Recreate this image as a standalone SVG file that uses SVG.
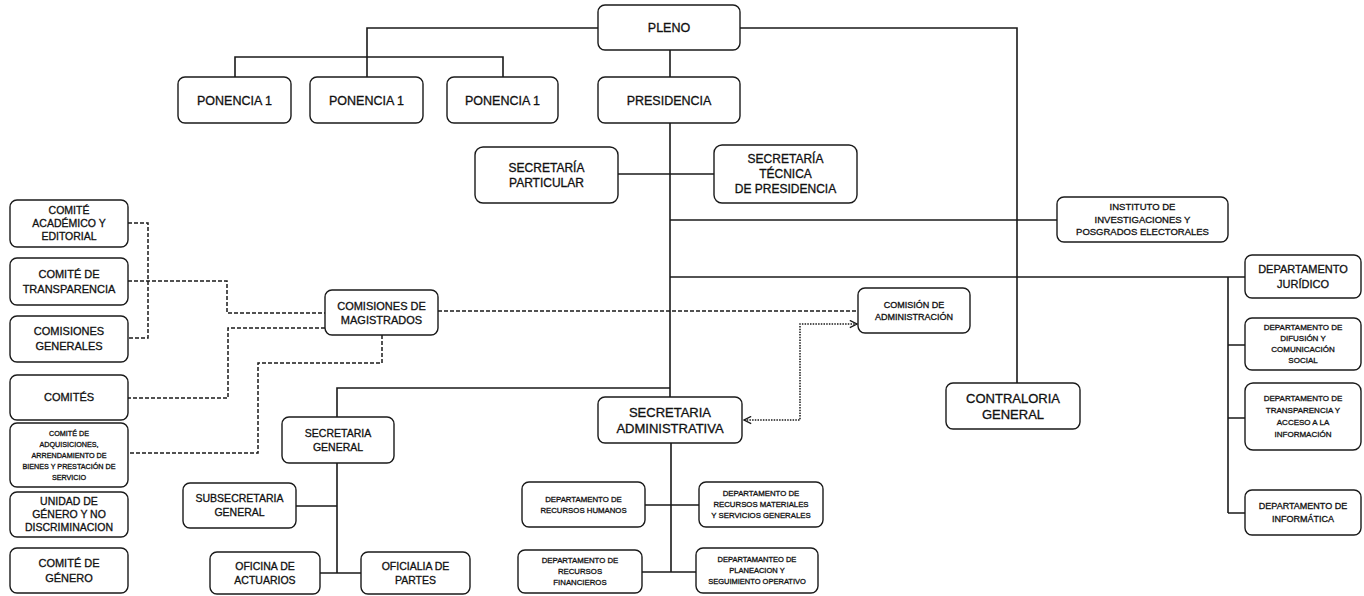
<svg xmlns="http://www.w3.org/2000/svg" width="1364" height="596" viewBox="0 0 1364 596">
<style>
.b{fill:#fff;stroke:#1a1a1a;stroke-width:1.4}
.t{font-family:"Liberation Sans",Arial,sans-serif;fill:#111;stroke:#111;stroke-width:0.3;text-anchor:middle}
.c{fill:none;stroke:#1a1a1a;stroke-width:1.6}
.d{fill:none;stroke:#1a1a1a;stroke-width:1.5;stroke-dasharray:4 2}
.o{fill:none;stroke:#1a1a1a;stroke-width:1.5;stroke-dasharray:1.5 1.2}
</style>
<defs>
<marker id="ar" viewBox="0 0 10 10" refX="9" refY="5" markerWidth="9" markerHeight="9" markerUnits="userSpaceOnUse" orient="auto-start-reverse">
<path d="M1,1 L9,5 L1,9" fill="none" stroke="#1a1a1a" stroke-width="1.5"/>
</marker>
</defs>
<rect width="1364" height="596" fill="#fff"/>
<g id="connectors">
<path class="c" d="M598,28 H367 V77"/>
<path class="c" d="M235,77 V57 H503 V77"/>
<path class="c" d="M740,28 H1017 V383"/>
<path class="c" d="M670,50 V77"/>
<path class="c" d="M670,123 V397"/>
<path class="c" d="M618,174 H714"/>
<path class="c" d="M670,220 H1057"/>
<path class="c" d="M670,277 H1245"/>
<path class="c" d="M1228,277 V513"/>
<path class="c" d="M1228,345 H1245 M1228,418 H1245 M1228,513 H1245"/>
<path class="c" d="M670,388 H337 V417"/>
<path class="c" d="M337,463 V573 M296,506 H337 M320,573 H361"/>
<path class="c" d="M671,443 V572 M645,505 H699 M642,572 H696"/>
<path class="d" d="M128,223 H148 V338 H128"/>
<path class="d" d="M128,281 H227 V313 H325"/>
<path class="d" d="M325,328 H228 V398 H128"/>
<path class="d" d="M382,335 V363 H258 V453 H128"/>
<path class="d" d="M438,311 H858"/>
<path class="o" d="M744,420 H800 V324 H857" marker-start="url(#ar)" marker-end="url(#ar)"/>
</g>
<g id="pleno"><rect class="b" x="598" y="5" width="142" height="45" rx="7"/><text class="t" x="669" y="32" font-size="12.5">PLENO</text></g>
<g id="ponencia1a"><rect class="b" x="178" y="77" width="113" height="46" rx="7"/><text class="t" x="234.5" y="104.5" font-size="12.5">PONENCIA 1</text></g>
<g id="ponencia1b"><rect class="b" x="310" y="77" width="113" height="46" rx="7"/><text class="t" x="366.5" y="104.5" font-size="12.5">PONENCIA 1</text></g>
<g id="ponencia1c"><rect class="b" x="447" y="77" width="111" height="46" rx="7"/><text class="t" x="502.5" y="104.5" font-size="12.5">PONENCIA 1</text></g>
<g id="presidencia"><rect class="b" x="598" y="77" width="142" height="46" rx="7"/><text class="t" x="669" y="104.5" font-size="12.5">PRESIDENCIA</text></g>
<g id="sec-particular"><rect class="b" x="475" y="147" width="143" height="56" rx="8"/><text class="t" font-size="12"><tspan x="546.5" y="171.7">SECRETARÍA</tspan><tspan x="546.5" y="186.7">PARTICULAR</tspan></text></g>
<g id="sec-tecnica"><rect class="b" x="714" y="145" width="143" height="58" rx="8"/><text class="t" font-size="12"><tspan x="785.5" y="163.2">SECRETARÍA</tspan><tspan x="785.5" y="178.2">TÉCNICA</tspan><tspan x="785.5" y="193.2">DE PRESIDENCIA</tspan></text></g>
<g id="instituto"><rect class="b" x="1057" y="197" width="171" height="45" rx="7"/><text class="t" font-size="9.5"><tspan x="1142.5" y="210.3">INSTITUTO DE</tspan><tspan x="1142.5" y="222.8">INVESTIGACIONES Y</tspan><tspan x="1142.5" y="235.3">POSGRADOS ELECTORALES</tspan></text></g>
<g id="comisiones-magistrados"><rect class="b" x="325" y="290" width="113" height="45" rx="7"/><text class="t" font-size="11"><tspan x="381.5" y="309.5">COMISIONES DE</tspan><tspan x="381.5" y="323.5">MAGISTRADOS</tspan></text></g>
<g id="comision-administracion"><rect class="b" x="858" y="288" width="112" height="45" rx="7"/><text class="t" font-size="9"><tspan x="914" y="307.7">COMISIÓN DE</tspan><tspan x="914" y="319.7">ADMINISTRACIÓN</tspan></text></g>
<g id="contraloria"><rect class="b" x="946" y="383" width="134" height="46" rx="7"/><text class="t" font-size="13"><tspan x="1013" y="402.5">CONTRALORIA</tspan><tspan x="1013" y="418.5">GENERAL</tspan></text></g>
<g id="sec-administrativa"><rect class="b" x="598" y="397" width="144" height="46" rx="7"/><text class="t" font-size="13"><tspan x="670" y="416.5">SECRETARIA</tspan><tspan x="670" y="432.5">ADMINISTRATIVA</tspan></text></g>
<g id="sec-general"><rect class="b" x="282" y="417" width="112" height="46" rx="7"/><text class="t" font-size="10.5"><tspan x="338" y="436.7">SECRETARIA</tspan><tspan x="338" y="450.7">GENERAL</tspan></text></g>
<g id="subsecretaria"><rect class="b" x="183" y="483" width="113" height="45" rx="7"/><text class="t" font-size="10.5"><tspan x="239.5" y="502.2">SUBSECRETARIA</tspan><tspan x="239.5" y="516.2">GENERAL</tspan></text></g>
<g id="oficina-actuarios"><rect class="b" x="210" y="552" width="110" height="42" rx="7"/><text class="t" font-size="10.5"><tspan x="265" y="569.7">OFICINA DE</tspan><tspan x="265" y="583.7">ACTUARIOS</tspan></text></g>
<g id="oficialia-partes"><rect class="b" x="361" y="552" width="109" height="42" rx="7"/><text class="t" font-size="10.5"><tspan x="415.5" y="569.7">OFICIALIA DE</tspan><tspan x="415.5" y="583.7">PARTES</tspan></text></g>
<g id="rh"><rect class="b" x="522" y="482" width="123" height="45" rx="7"/><text class="t" font-size="7.8"><tspan x="583.5" y="501.6">DEPARTAMENTO DE</tspan><tspan x="583.5" y="512.6">RECURSOS HUMANOS</tspan></text></g>
<g id="rm"><rect class="b" x="699" y="482" width="124" height="45" rx="7"/><text class="t" font-size="7.8"><tspan x="761" y="496.1">DEPARTAMENTO DE</tspan><tspan x="761" y="507.1">RECURSOS MATERIALES</tspan><tspan x="761" y="518.1">Y SERVICIOS GENERALES</tspan></text></g>
<g id="rf"><rect class="b" x="518" y="550" width="124" height="43" rx="7"/><text class="t" font-size="7.8"><tspan x="580" y="563.1">DEPARTAMENTO DE</tspan><tspan x="580" y="574.1">RECURSOS</tspan><tspan x="580" y="585.1">FINANCIEROS</tspan></text></g>
<g id="planeacion"><rect class="b" x="696" y="548" width="122" height="45" rx="7"/><text class="t" font-size="7.5"><tspan x="757" y="562.1">DEPARTAMANTEO DE</tspan><tspan x="757" y="573.1">PLANEACION Y</tspan><tspan x="757" y="584.1">SEGUIMIENTO OPERATIVO</tspan></text></g>
<g id="juridico"><rect class="b" x="1245" y="255" width="116" height="43" rx="7"/><text class="t" font-size="11"><tspan x="1303" y="272.9">DEPARTAMENTO</tspan><tspan x="1303" y="287.9">JURÍDICO</tspan></text></g>
<g id="difusion"><rect class="b" x="1245" y="318" width="116" height="52" rx="7"/><text class="t" font-size="8"><tspan x="1303" y="330.3">DEPARTAMENTO DE</tspan><tspan x="1303" y="341.3">DIFUSIÓN Y</tspan><tspan x="1303" y="352.3">COMUNICACIÓN</tspan><tspan x="1303" y="363.3">SOCIAL</tspan></text></g>
<g id="transparencia-dep"><rect class="b" x="1245" y="383" width="116" height="67" rx="8"/><text class="t" font-size="8"><tspan x="1303" y="401.3">DEPARTAMENTO DE</tspan><tspan x="1303" y="413.3">TRANSPARENCIA Y</tspan><tspan x="1303" y="425.3">ACCESO A LA</tspan><tspan x="1303" y="437.3">INFORMACIÓN</tspan></text></g>
<g id="informatica"><rect class="b" x="1245" y="490" width="116" height="45" rx="7"/><text class="t" font-size="9"><tspan x="1303" y="509.2">DEPARTAMENTO DE</tspan><tspan x="1303" y="522.2">INFORMÁTICA</tspan></text></g>
<g id="comite-academico"><rect class="b" x="10" y="200" width="118" height="47" rx="7"/><text class="t" font-size="10.5"><tspan x="69" y="214.2">COMITÉ</tspan><tspan x="69" y="227.2">ACADÉMICO Y</tspan><tspan x="69" y="240.2">EDITORIAL</tspan></text></g>
<g id="comite-transparencia"><rect class="b" x="10" y="258" width="118" height="47" rx="7"/><text class="t" font-size="11"><tspan x="69" y="277.8">COMITÉ DE</tspan><tspan x="69" y="292.8">TRANSPARENCIA</tspan></text></g>
<g id="comisiones-generales"><rect class="b" x="10" y="316" width="118" height="46" rx="7"/><text class="t" font-size="11"><tspan x="69" y="335.3">COMISIONES</tspan><tspan x="69" y="350.3">GENERALES</tspan></text></g>
<g id="comites"><rect class="b" x="10" y="375" width="118" height="45" rx="7"/><text class="t" x="69" y="401.4" font-size="11">COMITÉS</text></g>
<g id="comite-adquisiciones"><rect class="b" x="10" y="423" width="118" height="64" rx="7"/><text class="t" font-size="7.2"><tspan x="69" y="435.5">COMITÉ DE</tspan><tspan x="69" y="446.5">ADQUISICIONES,</tspan><tspan x="69" y="457.5">ARRENDAMIENTO DE</tspan><tspan x="69" y="468.5">BIENES Y PRESTACIÓN DE</tspan><tspan x="69" y="479.5">SERVICIO</tspan></text></g>
<g id="unidad-genero"><rect class="b" x="10" y="492" width="118" height="45" rx="7"/><text class="t" font-size="10.5"><tspan x="69" y="505.2">UNIDAD DE</tspan><tspan x="69" y="518.2">GÉNERO Y NO</tspan><tspan x="69" y="531.2">DISCRIMINACION</tspan></text></g>
<g id="comite-genero"><rect class="b" x="10" y="548" width="118" height="45" rx="7"/><text class="t" font-size="11"><tspan x="69" y="566.8">COMITÉ DE</tspan><tspan x="69" y="581.8">GÉNERO</tspan></text></g>
</svg>
